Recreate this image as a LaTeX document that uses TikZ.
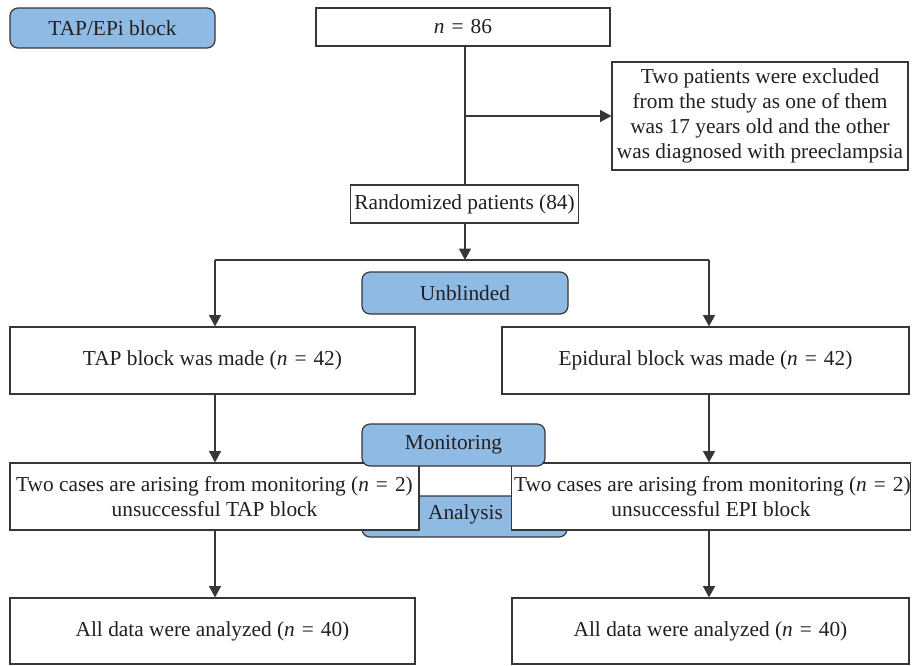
\documentclass[tikz,border=0pt]{standalone}
\usepackage{fontspec}
\setmainfont{Liberation Serif}
\usetikzlibrary{arrows.meta,calc}
\definecolor{flowblue}{RGB}{142,186,228}
\definecolor{flowedge}{RGB}{55,55,58}
\definecolor{flowtext}{RGB}{35,31,32}
\newcommand{\eqn}[1]{\textit{n}\hspace{0.33em}=\hspace{0.33em}#1}

\begin{document}
\begin{tikzpicture}[
      x=0.75pt, y=-0.75pt,
      plainbox/.style={draw=flowedge, fill=white, line width=0.9pt, inner sep=0pt, align=center, text=flowtext, font=\fontsize{16}{18.8}\selectfont},
      bluebox/.style={plainbox, fill=flowblue, rounded corners=6pt},
      arr/.style={draw=flowedge, line width=0.9pt, -{Triangle[length=8.5pt,width=9pt]}},
      link/.style={draw=flowedge, line width=0.9pt}
    ]
      \useasboundingbox (0,0) rectangle (912,665);

      \node[bluebox, minimum width=153.75pt, minimum height=30pt] (design) at (112.5,28) {TAP/EPi block};
      \node[plainbox, minimum width=220.5pt, minimum height=28.5pt] (total) at (463,27) {\eqn{86}};
      \node[plainbox, minimum width=222pt, minimum height=81pt] (excluded) at (760,116) {
        Two patients were excluded\\
        from the study as one of them\\
        was 17 years old and the other\\
        was diagnosed with preeclampsia};
      \node[plainbox, minimum width=171pt, minimum height=28.5pt] (random) at (464.5,204) {Randomized patients (84)};
      \node[bluebox, minimum width=154.5pt, minimum height=31.5pt] (unblinded) at (465,293) {Unblinded};

      \node[plainbox, minimum width=303.75pt, minimum height=50.25pt] (tapblock) at (212.5,360.5) {TAP block was made (\eqn{42})};
      \node[plainbox, minimum width=305.25pt, minimum height=50.25pt] (epiblock) at (705.5,360.5) {Epidural block was made (\eqn{42})};

      \node[bluebox, minimum width=153.75pt, minimum height=30.75pt] (analysis) at (464.5,516.5) {};
      \node[plainbox, minimum width=306.75pt, minimum height=50.25pt] (tapfail) at (214.5,496.5) {
        Two cases are arising from monitoring (\eqn{2})\\
        unsuccessful TAP block};
      \node[plainbox, minimum width=298.5pt, minimum height=50.25pt] (epifail) at (711,496.5) {
        \hspace*{2pt}Two cases are arising from monitoring (\eqn{2})\\
        unsuccessful EPI block};
      \node[text=flowtext, font=\fontsize{16}{18.8}\selectfont] (analysislabel) at (465.5,514) {Analysis};
      \node[bluebox, minimum width=137.25pt, minimum height=31.5pt] (monitoring) at (453.5,445) {Monitoring};

      \node[plainbox, minimum width=303.75pt, minimum height=49.5pt] (tapall) at (212.5,631) {All data were analyzed (\eqn{40})};
      \node[plainbox, minimum width=297.75pt, minimum height=49.5pt] (epiall) at (710.5,631) {All data were analyzed (\eqn{40})};

      \coordinate (split) at (465,260);
      \coordinate (leftsplit) at (215,260);
      \coordinate (rightsplit) at (709,260);
      \coordinate (branch) at (split |- excluded.west);

      \draw[link] (total.south -| split) -- (random.north -| split);
      \draw[arr] (branch) -- (excluded.west);
      \draw[arr] (random.south -| split) -- (split);
      \draw[link] (leftsplit) -- (rightsplit);
      \draw[arr] (leftsplit) -- (leftsplit |- tapblock.north);
      \draw[arr] (rightsplit) -- (rightsplit |- epiblock.north);
      \draw[arr] (tapblock.south -| leftsplit) -- (tapfail.north -| leftsplit);
      \draw[arr] (epiblock.south -| rightsplit) -- (epifail.north -| rightsplit);
      \draw[arr] (tapfail.south -| leftsplit) -- (tapall.north -| leftsplit);
      \draw[arr] (epifail.south -| rightsplit) -- (epiall.north -| rightsplit);
    \end{tikzpicture}
\end{document}
